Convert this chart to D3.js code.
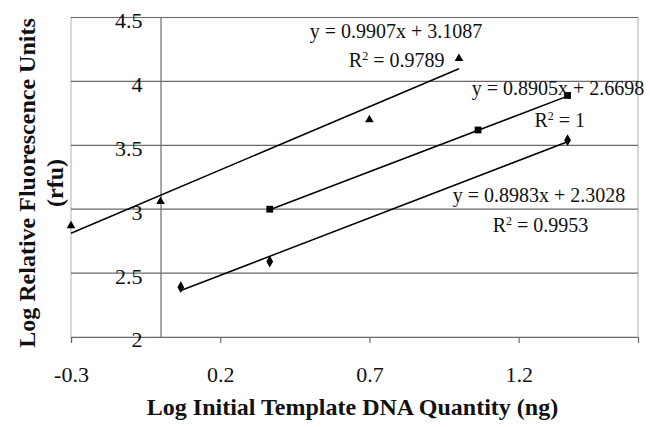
<!DOCTYPE html>
<html><head><meta charset="utf-8">
<script src="https://cdn.jsdelivr.net/npm/d3@7"></script>
<style>body{margin:0;background:#fff;}svg{display:block;font-family:"Liberation Serif","Times New Roman",serif;}</style>
</head><body>
<script>
const triX = [-0.3, 0.0, 0.7, 1.0];
const triY = [2.87, 3.06, 3.70, 4.18];
const sqX = [0.366, 1.064, 1.364];
const sqY = [3.00, 3.62, 3.89];
const diaX = [0.068, 0.366, 1.364];
const diaY = [2.39, 2.59, 3.54];
const slopes = [0.9907, 0.8905, 0.8983];
const intercepts = [3.1087, 2.6698, 2.3028];
const rsq = ["0.9789", "1", "0.9953"];
const xTicks = [-0.3, 0.2, 0.7, 1.2];
const yTicks = [2, 2.5, 3, 3.5, 4, 4.5];
const xTitle = "Log Initial Template DNA Quantity (ng)";
const yTitle1 = "Log Relative Fluorescence Units";
const yTitle2 = "(rfu)";
// label anchors in data units
const eqPos = [[0.50, 4.398], [1.0425, 3.945], [0.979, 3.109]];
const rPos = [[0.631, 4.164], [1.253, 3.695], [1.113, 2.875]];

const W = 650, H = 427;
const L = 71, R = 638, T = 17.5, B = 337;
const svg = d3.select("body").append("svg").attr("width", W).attr("height", H);
const x = d3.scaleLinear().domain([-0.3, 1.6]).range([L, R]);
const y = d3.scaleLinear().domain([2, 4.5]).range([B, T]);

svg.append("rect").attr("x", L).attr("y", T).attr("width", R - L).attr("height", B - T)
  .attr("fill", "none").attr("stroke", "#bdbdbd").attr("stroke-width", 1.2);
svg.append("g").selectAll("line").data(yTicks.filter(d => d > 2)).join("line")
  .attr("x1", L).attr("x2", R).attr("y1", d => y(d)).attr("y2", d => y(d))
  .attr("stroke", "#6a6a6a").attr("stroke-width", 1.2);
const xa = svg.append("g").attr("transform", `translate(0,${B})`)
  .call(d3.axisBottom(x).tickValues(xTicks).tickFormat(d => d.toFixed(1)).tickSize(6).tickPadding(23));
xa.select(".domain").attr("stroke", "#6a6a6a").attr("stroke-width", 1.2);
xa.selectAll(".tick line").attr("stroke", "#6a6a6a").attr("stroke-width", 1.2);
xa.selectAll("text").attr("font-family", "Liberation Serif").attr("font-size", 22).attr("fill", "#111");
const ya = svg.append("g").attr("transform", `translate(${x(0)},0)`)
  .call(d3.axisLeft(y).tickValues(yTicks).tickFormat(d => String(d)).tickSize(0).tickPadding(18));
ya.select(".domain").attr("stroke", "#6a6a6a").attr("stroke-width", 1.2);
ya.selectAll("text").attr("font-family", "Liberation Serif").attr("font-size", 22).attr("fill", "#111").attr("dy", "0.45em");

const sets = [
  {xs: triX, ys: triY, sym: d3.symbolTriangle, size: 32},
  {xs: sqX, ys: sqY, sym: d3.symbolSquare, size: 46},
  {xs: diaX, ys: diaY, sym: d3.symbolDiamond, size: 40}
];
const line = d3.line().x(d => x(d[0])).y(d => y(d[1]));
sets.forEach((s, i) => {
  const x0 = d3.min(s.xs), x1 = d3.max(s.xs);
  svg.append("path").attr("d", line([[x0, slopes[i] * x0 + intercepts[i]], [x1, slopes[i] * x1 + intercepts[i]]]))
    .attr("stroke", "#000").attr("stroke-width", 1.5).attr("fill", "none");
});
sets.forEach((s, i) => {
  svg.append("g").selectAll("path").data(s.xs.map((v, j) => [v, s.ys[j]])).join("path")
    .attr("transform", d => `translate(${x(d[0])},${y(d[1])})`)
    .attr("d", d3.symbol(s.sym, s.size)).attr("fill", "#000");
});

const lab = svg.append("g").attr("font-size", 20).attr("fill", "#111");
slopes.forEach((m, i) => {
  lab.append("text").attr("x", x(eqPos[i][0])).attr("y", y(eqPos[i][1])).attr("dy", "0.35em")
    .text(`y = ${m}x + ${intercepts[i]}`);
  const t = lab.append("text").attr("x", x(rPos[i][0])).attr("y", y(rPos[i][1])).attr("dy", "0.35em");
  t.append("tspan").text("R");
  t.append("tspan").attr("font-size", 12).attr("dy", "-0.6em").text("2");
  t.append("tspan").attr("dy", "0.35em").text(" = " + rsq[i]);
});

svg.append("text").attr("x", 352.5).attr("y", 415).attr("text-anchor", "middle")
  .attr("font-weight", "bold").attr("font-size", 24).attr("fill", "#111").text(xTitle);
const yt = svg.append("text").attr("transform", "translate(0,183) rotate(-90)").attr("text-anchor", "middle")
  .attr("font-weight", "bold").attr("font-size", 24).attr("fill", "#111");
yt.append("tspan").attr("x", 0).attr("y", 35).text(yTitle1);
yt.append("tspan").attr("x", 0).attr("y", 63).text(yTitle2);
</script>
</body></html>
